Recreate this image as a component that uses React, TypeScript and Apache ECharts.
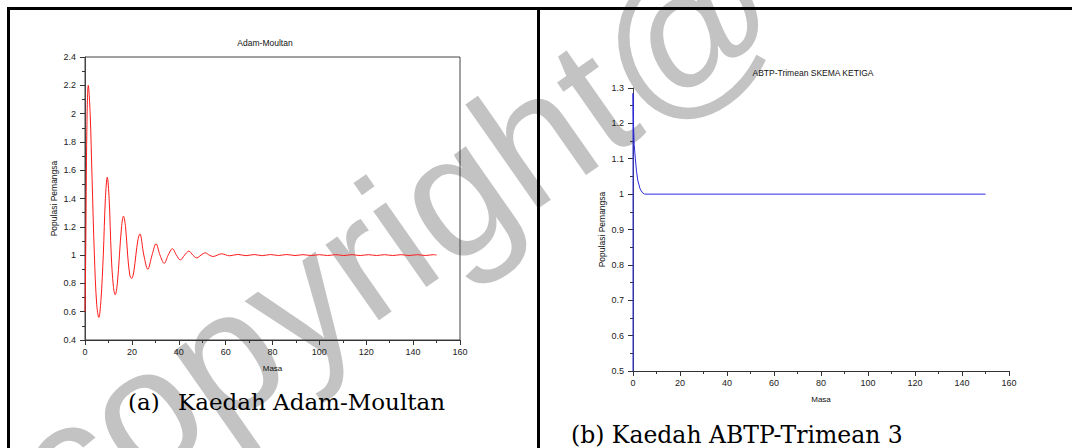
import React, { useEffect, useRef } from "react";
import * as echarts from "echarts";

// ---- data ----
const masaTicks = [0, 20, 40, 60, 80, 100, 120, 140, 160];

const masaA = [0, 0.3, 0.8, 1.4, 2.2, 3.0, 4.0, 5.0, 5.9, 6.8, 7.8, 8.7, 9.5, 10.3, 11.2, 12.1, 12.9, 13.8, 14.7, 15.6,
  16.4, 17.3, 18.2, 19.1, 19.9, 20.8, 21.7, 22.6, 23.4, 25.1, 26.8, 28.6, 30.3, 32.0, 33.8, 35.5, 37.3, 39.0, 40.7, 42.5,
  44.3, 46.0, 47.7, 49.5, 51.3, 53.0, 54.7, 56.5, 58.2, 61.7, 65.2, 68.7, 72.2, 75.6, 79.1, 82.6, 86.1, 89.6, 93.0, 96.5,
  100.0, 103.5, 107.0, 110.4, 113.9, 117.4, 120.9, 124.4, 127.8, 131.3, 134.8, 138.3, 141.8, 145.2, 148.7, 150];
const populasiA = [0.6, 1.0, 1.9, 2.2, 2.0, 1.55, 1.0, 0.65, 0.56, 0.68, 1.0, 1.4, 1.55, 1.4, 1.0, 0.78, 0.72, 0.8, 1.0, 1.2,
  1.275, 1.2, 1.0, 0.86, 0.835, 0.88, 1.0, 1.11, 1.15, 1.0, 0.9, 1.0, 1.08, 1.0, 0.942, 1.0, 1.045, 1.0, 0.966, 1.0,
  1.028, 1.0, 0.98, 1.0, 1.016, 1.0, 0.99, 1.0, 1.009, 0.995, 1.005, 0.996, 1.004, 0.996, 1.004, 0.997, 1.004, 0.997, 1.003, 0.997,
  1.003, 0.997, 1.003, 0.997, 1.003, 0.997, 1.003, 0.997, 1.003, 0.997, 1.003, 0.997, 1.003, 0.997, 1.003, 1.0];

const masaB = [0, 0, 0.2, 0.5, 1.0, 1.5, 2.0, 3.0, 4.0, 5.0, 150];
const populasiB = [0.5, 1.285, 1.2, 1.14, 1.1, 1.065, 1.04, 1.015, 1.004, 1.0, 1.0];

const titleA = "Adam-Moultan";
const titleB = "ABTP-Trimean SKEMA KETIGA";
const xName = "Masa";
const yName = "Populasi Pemangsa";
const captionA1 = "(a)";
const captionA2 = "Kaedah Adam-Moultan";
const captionB = "(b) Kaedah ABTP-Trimean 3";
const watermark = "copyright@";

const SANS = "'Liberation Sans', Arial, Helvetica, sans-serif";
const SERIF = "'DejaVu Serif', Georgia, serif";

function xAxisCfg(gridIndex: number) {
  return {
    gridIndex,
    type: "value",
    min: masaTicks[0],
    max: masaTicks[masaTicks.length - 1],
    interval: masaTicks[1] - masaTicks[0],
    name: xName,
    nameLocation: "middle",
    nameGap: 24,
    nameMoveOverlap: false,
    nameTextStyle: { fontSize: 8, color: "#111", fontFamily: SANS },
    axisLine: { show: true, onZero: false, lineStyle: { color: "#333", width: 1 } },
    axisTick: { show: true, inside: false, length: 5, lineStyle: { color: "#333" } },
    minorTick: { show: true, splitNumber: 2, length: 3, lineStyle: { color: "#333" } },
    axisLabel: { fontSize: 9, color: "#222", margin: 7, fontFamily: SANS },
    splitLine: { show: false },
    minorSplitLine: { show: false },
  };
}

function yAxisCfg(gridIndex: number, min: number, max: number, interval: number) {
  return {
    gridIndex,
    type: "value",
    min,
    max,
    interval,
    name: yName,
    nameLocation: "middle",
    nameGap: 27,
    nameMoveOverlap: false,
    nameTextStyle: { fontSize: 8.5, color: "#111", fontFamily: SANS },
    axisLine: { show: true, onZero: false, lineStyle: { color: "#444", width: 1 } },
    axisTick: { show: true, inside: false, length: 5, lineStyle: { color: "#333" } },
    minorTick: { show: true, splitNumber: 2, length: 3, lineStyle: { color: "#333" } },
    axisLabel: { fontSize: 9, color: "#222", margin: 9, fontFamily: SANS },
    splitLine: { show: false },
    minorSplitLine: { show: false },
  };
}

export default function App() {
  const ref = useRef<HTMLDivElement>(null);

  useEffect(() => {
    if (!ref.current) return;
    const chart = echarts.init(ref.current, null, { renderer: "svg" });
    const option: any = {
      animation: false,
      backgroundColor: "#ffffff",
      textStyle: { fontFamily: SANS },
      grid: [
        { left: 85, top: 57, width: 375, height: 283, show: true, borderColor: "#444", borderWidth: 1, backgroundColor: "transparent", containLabel: false, outerBoundsMode: "none" },
        { left: 633, top: 88, width: 376, height: 283, show: false, containLabel: false, outerBoundsMode: "none" },
      ],
      xAxis: [xAxisCfg(0), xAxisCfg(1)],
      yAxis: [yAxisCfg(0, 0.4, 2.4, 0.2), yAxisCfg(1, 0.5, 1.3, 0.1)],
      series: [
        {
          type: "line",
          xAxisIndex: 0,
          yAxisIndex: 0,
          data: masaA.map((m, i) => [m, populasiA[i]]),
          showSymbol: false,
          smooth: 0.35,
          lineStyle: { color: "#ff1a1a", width: 1 },
          itemStyle: { color: "#ff1a1a" },
          z: 5,
        },
        {
          type: "line",
          xAxisIndex: 1,
          yAxisIndex: 1,
          data: masaB.map((m, i) => [m, populasiB[i]]),
          showSymbol: false,
          smooth: false,
          lineStyle: { color: "#2b2be0", width: 1 },
          itemStyle: { color: "#2b2be0" },
          z: 5,
        },
      ],
      graphic: [
        {
          type: "text",
          z: -10,
          x: 395,
          y: 235,
          rotation: (35 * Math.PI) / 180,
          silent: true,
          style: {
            text: watermark,
            fontSize: 175,
            fontFamily: SANS,
            fill: "#c3c3c3",
            align: "center",
            verticalAlign: "middle",
          },
        },
        // table borders
        { type: "rect", z: 50, shape: { x: 7, y: 7, width: 1065, height: 3 }, style: { fill: "#000" } },
        { type: "rect", z: 50, shape: { x: 7, y: 7, width: 3, height: 441 }, style: { fill: "#000" } },
        { type: "rect", z: 50, shape: { x: 537, y: 7, width: 3, height: 441 }, style: { fill: "#000" } },
        // chart titles
        { type: "text", z: 20, x: 265, y: 43, style: { text: titleA, fontSize: 8.5, fontFamily: SANS, fill: "#111", align: "center", verticalAlign: "middle" } },
        { type: "text", z: 20, x: 813, y: 73, style: { text: titleB, fontSize: 8.5, fontFamily: SANS, fill: "#111", align: "center", verticalAlign: "middle" } },
        // captions
        { type: "text", z: 20, x: 128, y: 402, style: { text: captionA1, fontSize: 23, fontFamily: SERIF, fill: "#000", align: "left", verticalAlign: "middle" } },
        { type: "text", z: 20, x: 178, y: 402, style: { text: captionA2, fontSize: 23, fontFamily: SERIF, fill: "#000", align: "left", verticalAlign: "middle" } },
        { type: "text", z: 20, x: 571, y: 435, style: { text: captionB, fontSize: 23.5, fontFamily: SERIF, fill: "#000", align: "left", verticalAlign: "middle" } },
      ],
    };
    chart.setOption(option);
    return () => chart.dispose();
  }, []);

  return (
    <div
      ref={ref}
      style={{ position: "fixed", left: 0, top: 0, width: 1072, height: 448, background: "#fff" }}
    />
  );
}
